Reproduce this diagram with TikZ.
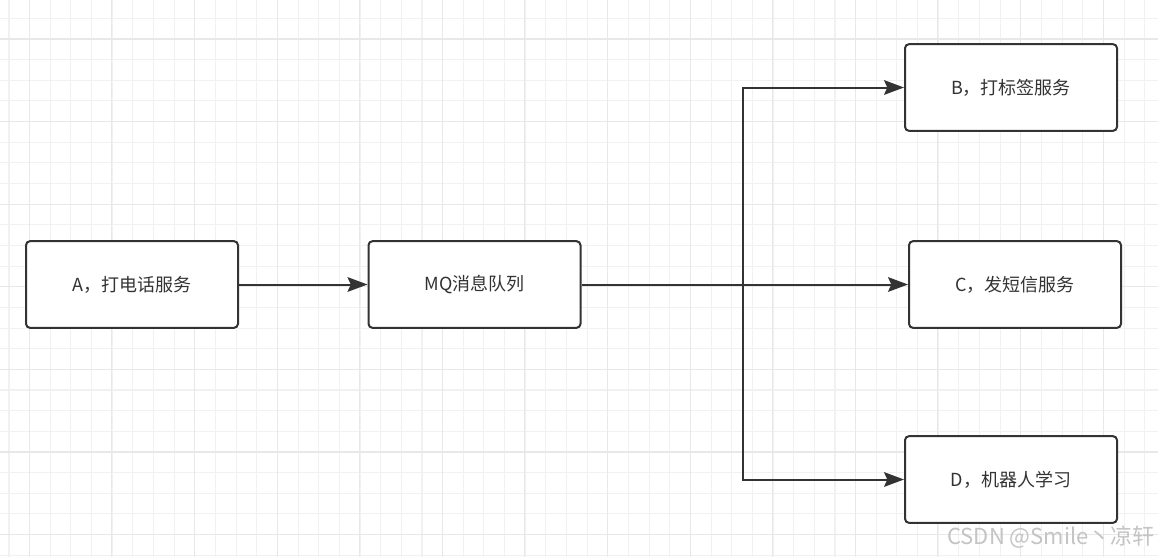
\documentclass[tikz,border=0pt]{standalone}
\usepackage{fontspec}
\setmainfont{Noto Sans CJK SC}
\usetikzlibrary{arrows.meta}

\definecolor{linegray}{HTML}{333333}
\definecolor{gridminor}{HTML}{F1F1F1}
\definecolor{gridmajor}{HTML}{E8E8E8}
\definecolor{markgray}{HTML}{C4C4C4}

\begin{document}
\begin{tikzpicture}[x=0.75pt,y=-0.75pt]

\tikzset{
  service box/.style={
    draw=linegray,
    line width=1.5pt,
    rounded corners=3pt,
    fill=white,
    minimum width=159pt,
    minimum height=65pt,
    text=linegray,
    font=\fontsize{13.5}{16}\selectfont,
  },
  conn/.style={
    draw=linegray,
    line width=1.5pt,
    -{Stealth[length=15pt,width=11pt,inset=2.5pt]},
  }
}

% Background and grid
\fill[white] (0,0) rectangle (1158,557);
\useasboundingbox (0,0) rectangle (1158,557);
\foreach \i in {0,...,56} \draw[gridminor,line width=0.8pt] ({9+20.65*\i},0) -- ++(0,557);
\foreach \i in {0,...,26} \draw[gridminor,line width=0.8pt] (0,{18.3+20.65*\i}) -- ++(1158,0);
\foreach \i in {0,...,13} \draw[gridmajor,line width=0.8pt] ({29.3+82.6*\i},0) -- ++(0,557);
\foreach \i in {0,...,6} \draw[gridmajor,line width=0.8pt] (0,{39+82.6*\i}) -- ++(1158,0);

% Producer and queue
\node[service box] (a)  at (132,284.5)  {A，打电话服务};
\node[service box] (mq) at (474.5,284.5) {MQ消息队列};

% Consumers
\node[service box] (b) at (1011,87.5)  {B，打标签服务};
\node[service box] (c) at (1015,284.5) {C，发短信服务};
\node[service box] (d) at (1011,479.5) {D，机器人学习};

% Branch point
\coordinate (split) at (743,284.5);

% Edges
\draw[conn] (a) -- (mq);
\draw[conn] (mq) -- (c);
\draw[conn] (split) |- (b);
\draw[conn] (split) |- (d);

% Watermark
\node[text=markgray,font=\fontsize{16.5}{19}\selectfont] (mark) at (1051,537) {CSDN @Smile丶凉轩};

\end{tikzpicture}
\end{document}
